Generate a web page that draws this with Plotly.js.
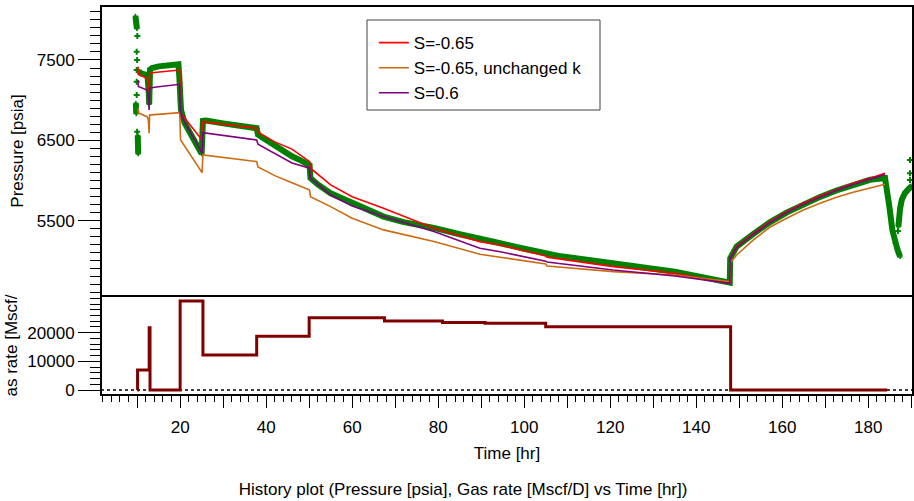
<!DOCTYPE html>
<html>
<head>
<meta charset="utf-8">
<script src="https://cdn.plot.ly/plotly-3.0.1.min.js"></script>
<style>html,body{margin:0;padding:0;background:#fff;}#chart{width:914px;height:501px;}</style>
</head>
<body>
<div id="chart"></div>
<script>
// ---- data ----
const modelT = [10.2, 10.3, 12.3, 12.6, 12.8, 12.9, 14, 19.6, 19.9, 20.1, 21, 23, 25.1, 25.3, 30, 35, 37.8, 38.1, 42, 46, 50.1, 50.3, 55, 60, 67.3, 79, 89.7, 94.4, 105, 105.3, 120.7, 135, 147.8, 147.9, 149.4, 153.3, 157.1, 161, 164.9, 168.8, 172.6, 176.5, 180.4, 183.9];
const pRed = [7417, 7320, 7272, 7230, 7100, 7330, 7345, 7375, 7375, 6840, 6780, 6640, 6504, 6732, 6700, 6670, 6650, 6600, 6480, 6390, 6234, 6152, 5944, 5798, 5654, 5405, 5238, 5197, 5060, 5045, 4927, 4844, 4720, 5031, 5176, 5342, 5487, 5611, 5716, 5807, 5890, 5965, 6027, 6089];
const pOrange = [6899, 6840, 6794, 6760, 6587, 6815, 6820, 6843, 6843, 6504, 6430, 6260, 6097, 6317, 6285, 6255, 6234, 6168, 6060, 5972, 5881, 5798, 5674, 5529, 5384, 5240, 5080, 5044, 4960, 4935, 4864, 4823, 4740, 4972, 5072, 5259, 5417, 5529, 5633, 5716, 5791, 5853, 5903, 5953];
const pPurple = [7251, 7170, 7126, 7060, 6877, 7148, 7160, 7197, 7197, 6840, 6730, 6540, 6340, 6595, 6560, 6530, 6504, 6450, 6330, 6217, 6152, 6027, 5819, 5682, 5550, 5363, 5155, 5113, 4995, 4985, 4885, 4810, 4720, 5031, 5165, 5330, 5475, 5600, 5705, 5795, 5878, 5952, 6015, 6075];

// measured pressure: continuous bands (segments separated by null)
const measT = [9.6, 9.7, 9.85, 9.95, null,
  9.7, 9.8, 9.8, null,
  10.15, 10.2, 10.25, null,
  10.4, 11, 11.8, 12.4, 12.7, 12.8, 13.0, 13.5, 15, 17, 19.6, 19.8, 20.0, 20.2, 21, 22, 23, 24, 25.0, 25.3, 26, 30, 35, 37.8, 38.1, 40, 42, 44, 46, 48, 50.1, 50.3, 52, 55, 60, 64, 67.3, 72, 79, 85, 89.7, 94.4, 100, 105, 108, 115, 120.7, 128, 135, 142, 147.8, 147.9, 149.4, 153.3, 157.1, 161, 164.9, 168.8, 172.6, 176.5, 180.4, 183.9, 184.3, 184.9, 185.6, 186.2, 186.8, 187.4, null,
  187.0, 187.1, 187.4, 187.8, 188.5, 189.5, 190.2];
const measP = [8045, 7990, 7930, 7890, null,
  6960, 6890, 6830, null,
  6560, 6450, 6330, null,
  7360, 7330, 7320, 7310, 7100, 6950, 7380, 7400, 7420, 7430, 7446, 7300, 7000, 6880, 6720, 6620, 6520, 6420, 6330, 6740, 6745, 6710, 6670, 6650, 6570, 6500, 6430, 6360, 6300, 6250, 6190, 6030, 5950, 5840, 5716, 5620, 5550, 5480, 5410, 5330, 5280, 5218, 5150, 5093, 5060, 5010, 4969, 4905, 4864, 4790, 4728, 5031, 5176, 5335, 5478, 5600, 5705, 5795, 5875, 5948, 6008, 6030, 5923, 5674, 5384, 5218, 5135, 5051, null,
  5425, 5520, 5650, 5760, 5840, 5900, 5935];
// measured pressure: isolated points
const dotT = [10.05, 9.9, 10.0, 9.9, 9.9, 9.9, 10.0, 186.9, 189.7, 189.7, 189.7];
const dotP = [7800, 7603, 7500, 7375, 7230, 7064, 6607, 5370, 6006, 6089, 6255];

// gas rate (step history)
const rateT = [10.07, 10.1, 12.8, 13.0, 20.0, 25.3, 37.8, 50.0, 67.5, 81.0, 90.9, 105.0, 148.0, 184.4];
const rateQ = [0, 7000, 21700, 0, 31100, 12200, 18800, 25200, 24100, 23600, 23300, 22100, 0, 0];

const xTickVals = [10, 20, 30, 40, 50, 60, 70, 80, 90, 100, 110, 120, 130, 140, 150, 160, 170, 180, 190];
const xTickText = ['', '20', '', '40', '', '60', '', '80', '', '100', '', '120', '', '140', '', '160', '', '180', ''];
const pTickVals = [5500, 6500, 7500];
const pTickText = ['5500', '6500', '7500'];
const qTickVals = [0, 10000, 20000];
const qTickText = ['0', '10000', '20000'];

const seriesNames = ['S=-0.65', 'S=-0.65, unchanged k', 'S=0.6'];
const titleText = 'History plot (Pressure [psia], Gas rate [Mscf/D] vs Time [hr])';

// ---- chart ----
const FONT = 'Liberation Sans, Arial, sans-serif';
const split = 99 / 389;

const traces = [
  {x: measT, y: measP, xaxis: 'x', yaxis: 'y', mode: 'lines+markers', showlegend: false,
   line: {color: '#008000', width: 6}, marker: {symbol: 'cross', size: 4, color: '#008000'}, connectgaps: false},
  {x: dotT, y: dotP, xaxis: 'x', yaxis: 'y', mode: 'markers', showlegend: false,
   marker: {symbol: 'cross', size: 5, color: '#008000'}},
  {x: modelT, y: pRed, name: seriesNames[0], xaxis: 'x', yaxis: 'y', mode: 'lines', line: {color: '#FF0000', width: 1.6}},
  {x: modelT, y: pOrange, name: seriesNames[1], xaxis: 'x', yaxis: 'y', mode: 'lines', line: {color: '#CC6A10', width: 1.6}},
  {x: modelT, y: pPurple, name: seriesNames[2], xaxis: 'x', yaxis: 'y', mode: 'lines', line: {color: '#800080', width: 1.6}},
  {x: rateT, y: rateQ, xaxis: 'x', yaxis: 'y2', mode: 'lines', showlegend: false, line: {color: '#800000', width: 3, shape: 'hv'}}
];

const tickCommon = {ticks: 'outside', tickcolor: '#000', tickwidth: 1, showgrid: false, zeroline: false, showline: false,
  tickfont: {family: FONT, size: 17, color: '#000'}};

const layout = {
  width: 914, height: 501,
  margin: {l: 101, r: 1, t: 6, b: 106, pad: 0},
  paper_bgcolor: '#fff', plot_bgcolor: '#fff',
  font: {family: FONT, size: 17, color: '#000'},
  showlegend: true,
  title: {text: titleText, font: {family: FONT, size: 17, color: '#000'}, xref: 'container', yref: 'container', x: 0.5066, xanchor: 'center', y: 0.024, yanchor: 'middle'},
  xaxis: Object.assign({}, tickCommon, {
    anchor: 'y2', range: [1.6, 190.4], tickmode: 'array', tickvals: xTickVals, ticktext: xTickText, ticklen: 12,
    ticklabelstandoff: 5,
    minor: {ticks: 'outside', tickmode: 'linear', tick0: 0, dtick: 2, ticklen: 6, tickcolor: '#000', showgrid: false},
    title: {text: 'Time [hr]', font: {family: FONT, size: 17, color: '#000'}, standoff: 10}
  }),
  yaxis: Object.assign({}, tickCommon, {
    domain: [split, 1], anchor: 'x', range: [4561, 8172], tickmode: 'array', tickvals: pTickVals, ticktext: pTickText, ticklen: 22,
    minor: {ticks: 'outside', tickmode: 'linear', tick0: 0, dtick: 100, ticklen: 10, tickcolor: '#000', showgrid: false},
    title: {text: 'Pressure [psia]', font: {family: FONT, size: 17, color: '#000'}, standoff: 8}
  }),
  yaxis2: Object.assign({}, tickCommon, {
    domain: [0, split], anchor: 'x', range: [-1745, 32810], tickmode: 'array', tickvals: qTickVals, ticktext: qTickText, ticklen: 22,
    minor: {ticks: 'outside', tickmode: 'linear', tick0: 0, dtick: 2000, ticklen: 10, tickcolor: '#000', showgrid: false},
    title: {text: 'as rate [Mscf/', font: {family: FONT, size: 17, color: '#000'}, standoff: 5}
  }),
  legend: {x: 0.336, xanchor: 'left', y: 0.951, yanchor: 'top', bgcolor: 'rgba(0,0,0,0)', borderwidth: 0,
    font: {family: FONT, size: 17, color: '#000'}},
  shapes: [
    {type: 'line', xref: 'paper', yref: 'y2', x0: 0, x1: 1, y0: 0, y1: 0, layer: 'below', line: {color: '#000', width: 1.5, dash: '3px,3px'}},
    {type: 'rect', xref: 'paper', yref: 'paper', x0: 0, x1: 1, y0: 0, y1: 1, line: {color: '#000', width: 2}},
    {type: 'line', xref: 'paper', yref: 'paper', x0: 0, x1: 1, y0: split, y1: split, line: {color: '#000', width: 2}},
    {type: 'rect', xref: 'paper', yref: 'paper', x0: 266 / 812, x1: 499 / 812, y0: (395 - 110) / 389, y1: (395 - 20) / 389, line: {color: '#404040', width: 1}}
  ]
};

Plotly.newPlot('chart', traces, layout, {staticPlot: true, displayModeBar: false});
</script>
</body>
</html>
